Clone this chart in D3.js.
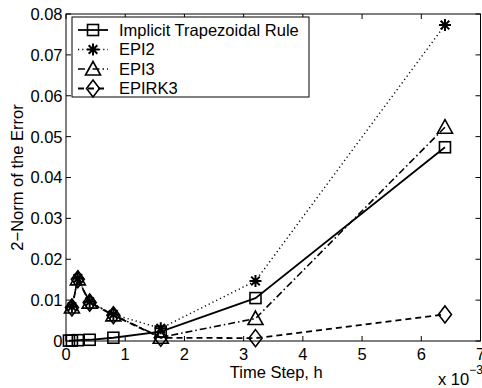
<!DOCTYPE html>
<html>
<head>
<meta charset="utf-8">
<script src="https://cdn.jsdelivr.net/npm/d3@7"></script>
<style>
  html, body { margin: 0; padding: 0; background: #fff; }
  svg { display: block; font-family: "Liberation Sans", Arial, Helvetica, sans-serif; }
</style>
</head>
<body>
<svg id="chart" width="482" height="388"></svg>
<script>
// Time steps (seconds)
const stepsTrap = [0.05e-3, 0.1e-3, 0.2e-3, 0.4e-3, 0.8e-3, 1.6e-3, 3.2e-3, 6.4e-3];
const stepsExp  = [0.1e-3, 0.2e-3, 0.4e-3, 0.8e-3, 1.6e-3, 3.2e-3, 6.4e-3];

// 2-norm of the error for each integrator
const errTrap   = [0.0001, 0.0001, 0.0002, 0.0003, 0.0008, 0.0023, 0.0105, 0.0474];
const errEPI2   = [0.0084, 0.0153, 0.0096, 0.0065, 0.0031, 0.0147, 0.0773];
const errEPI3   = [0.0083, 0.0152, 0.0095, 0.0064, 0.0009, 0.0055, 0.0523];
const errEPIRK3 = [0.0082, 0.0151, 0.0094, 0.0063, 0.0008, 0.0007, 0.0065];

const seriesNames = ["Implicit Trapezoidal Rule", "EPI2", "EPI3", "EPIRK3"];

// Axis ticks
const xTicks = [0, 1e-3, 2e-3, 3e-3, 4e-3, 5e-3, 6e-3, 7e-3];
const xTickLabels = ["0", "1", "2", "3", "4", "5", "6", "7"];
const yTicks = [0, 0.01, 0.02, 0.03, 0.04, 0.05, 0.06, 0.07, 0.08];
const yTickLabels = ["0", "0.01", "0.02", "0.03", "0.04", "0.05", "0.06", "0.07", "0.08"];

const svg = d3.select("#chart");
const L = 66, R = 480.5, T = 14, B = 341;
const x = d3.scaleLinear().domain([0, 7e-3]).range([L, R]);
const y = d3.scaleLinear().domain([0, 0.08]).range([B, T]);

const FS = 16.5;

// line styles per series
const styles = [
  { dash: null,          width: 1.8, marker: "square" },
  { dash: "1.2,3",       width: 1.4, marker: "star" },
  { dash: "7,3,1.5,3",   width: 1.6, marker: "triangle" },
  { dash: "6,4",         width: 1.8, marker: "diamond" }
];

const series = [
  { xs: stepsTrap, ys: errTrap },
  { xs: stepsExp,  ys: errEPI2 },
  { xs: stepsExp,  ys: errEPI3 },
  { xs: stepsExp,  ys: errEPIRK3 }
];

function drawMarker(g, type, cx, cy) {
  const s = g.append("g").attr("transform", `translate(${cx},${cy})`)
    .attr("fill", "none").attr("stroke", "#000").attr("stroke-width", 1.6);
  if (type === "square") {
    s.append("rect").attr("x", -5.5).attr("y", -5.5).attr("width", 11).attr("height", 11);
  } else if (type === "triangle") {
    s.append("path").attr("d", "M0,-7.5 L7.5,6 L-7.5,6 Z");
  } else if (type === "diamond") {
    s.append("path").attr("d", "M0,-8.5 L6.5,0 L0,8.5 L-6.5,0 Z");
  } else if (type === "star") {
    const r = 6, d = 4.3;
    s.append("path").attr("d",
      `M${-r},0 L${r},0 M0,${-r} L0,${r} M${-d},${-d} L${d},${d} M${-d},${d} L${d},${-d}`)
      .attr("stroke-width", 2);
  }
}

// axes box
const axisG = svg.append("g").attr("stroke", "#000").attr("stroke-width", 1);
axisG.append("rect").attr("x", L).attr("y", T).attr("width", R - L).attr("height", B - T)
  .attr("fill", "none");

// ticks (inward, all four sides)
const TL = 5;
xTicks.forEach(t => {
  const px = x(t);
  axisG.append("line").attr("x1", px).attr("x2", px).attr("y1", B).attr("y2", B - TL);
  axisG.append("line").attr("x1", px).attr("x2", px).attr("y1", T).attr("y2", T + TL);
});
yTicks.forEach(t => {
  const py = y(t);
  axisG.append("line").attr("x1", L).attr("x2", L + TL).attr("y1", py).attr("y2", py);
  axisG.append("line").attr("x1", R).attr("x2", R - TL).attr("y1", py).attr("y2", py);
});

// tick labels
svg.append("g").selectAll("text").data(xTicks).join("text")
  .attr("x", d => x(d)).attr("y", B + 19)
  .attr("text-anchor", "middle").attr("font-size", FS)
  .text((d, i) => xTickLabels[i]);
svg.append("g").selectAll("text").data(yTicks).join("text")
  .attr("x", L - 3.5).attr("y", d => y(d)).attr("dy", "0.36em")
  .attr("text-anchor", "end").attr("font-size", FS)
  .text((d, i) => yTickLabels[i]);

// axis labels
svg.append("text").attr("x", (L + R) / 2 + 3).attr("y", B + 37)
  .attr("text-anchor", "middle").attr("font-size", FS).text("Time Step, h");
svg.append("text").attr("transform", `translate(23,${(T + B) / 2}) rotate(-90)`)
  .attr("text-anchor", "middle").attr("font-size", FS).text("2\u2212Norm of the Error");

// exponent label
const ex = svg.append("text").attr("x", 438).attr("y", 385).attr("font-size", FS);
ex.append("tspan").text("x 10");
ex.append("tspan").attr("font-size", 12).attr("dy", -11).text("\u22123");

// series lines + markers
const plotG = svg.append("g");
const line = d3.line().x(d => x(d[0])).y(d => y(d[1]));
series.forEach((s, i) => {
  const pts = s.xs.map((v, j) => [v, s.ys[j]]);
  plotG.append("path").attr("d", line(pts)).attr("fill", "none")
    .attr("stroke", "#000").attr("stroke-width", styles[i].width)
    .attr("stroke-dasharray", styles[i].dash);
  pts.forEach(p => drawMarker(plotG, styles[i].marker, x(p[0]), y(p[1])));
});

// legend
const lg = svg.append("g");
lg.append("rect").attr("x", 72).attr("y", 17).attr("width", 237).attr("height", 80)
  .attr("fill", "#fff").attr("stroke", "#000").attr("stroke-width", 1);
const rowY = [30, 49.5, 69, 88.5];
seriesNames.forEach((name, i) => {
  const yy = rowY[i];
  lg.append("line").attr("x1", 78).attr("x2", 108).attr("y1", yy).attr("y2", yy)
    .attr("stroke", "#000").attr("stroke-width", styles[i].width)
    .attr("stroke-dasharray", styles[i].dash);
  drawMarker(lg, styles[i].marker, 93, yy);
  lg.append("text").attr("x", 119).attr("y", yy).attr("dy", "0.36em")
    .attr("font-size", FS).text(name);
});
</script>
</body>
</html>
